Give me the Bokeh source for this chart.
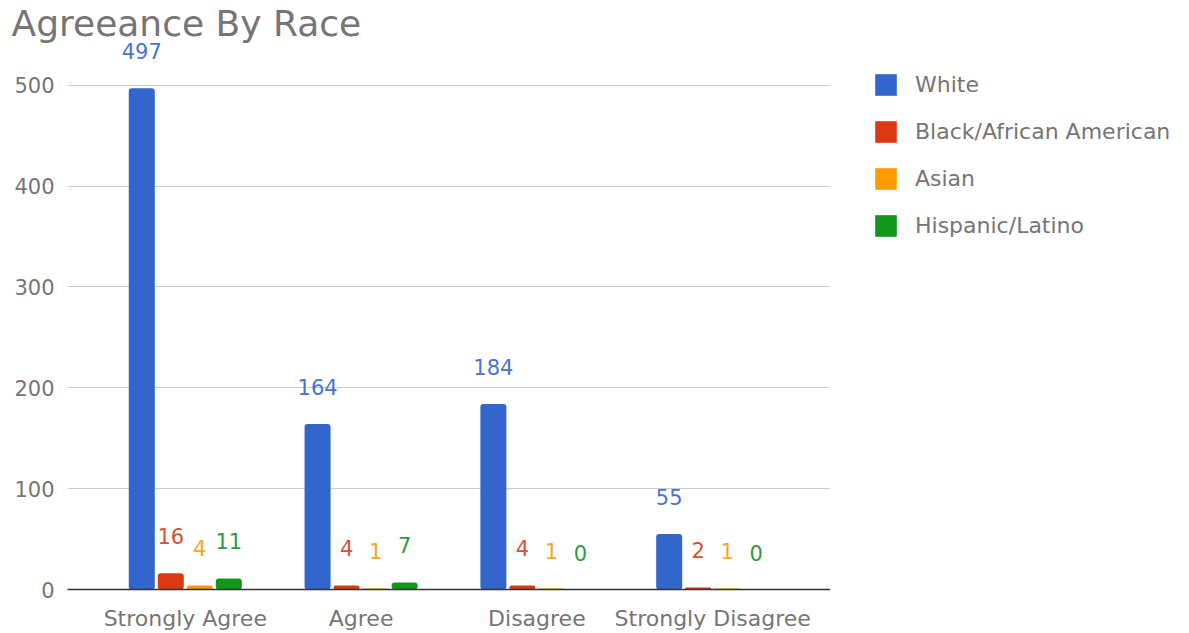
from bokeh.plotting import figure
from bokeh.layouts import row
from bokeh.models import Range1d, FixedTicker, Legend, LegendItem, ColumnDataSource
from bokeh.embed import file_html
from bokeh.resources import INLINE
from bokeh.core.properties import value

# Survey responses grouped by agreement level, one series per race
categories = ["Strongly Agree", "Agree", "Disagree", "Strongly Disagree"]
series_names = ["White", "Black/African American", "Asian", "Hispanic/Latino"]
white = [497, 164, 184, 55]
black = [16, 4, 4, 2]
asian = [4, 1, 1, 1]
hispanic = [11, 7, 0, 0]
y_ticks = [0, 100, 200, 300, 400, 500]

series_values = [white, black, asian, hispanic]
bar_colors = ["#3366cc", "#dc3912", "#ff9900", "#109618"]
label_colors = ["#4a74cc", "#d9502f", "#f7a623", "#2f9a40"]

FONT = "DejaVu Sans"
GRAY = "#757575"

p = figure(width=830, height=633, output_backend="svg", toolbar_location=None,
           x_range=Range1d(-0.67, 3.67), y_range=Range1d(0, 544.3),
           min_border_left=67, min_border_right=0, min_border_bottom=40,
           min_border_top=40)

p.title.text = "Agreeance By Race"
p.title.text_font = FONT
p.title.text_font_size = "36px"
p.title.text_font_style = "normal"
p.title.text_color = GRAY
p.title.standoff = -7
p.title.offset = -56

p.outline_line_color = None
p.background_fill_color = "white"
p.border_fill_color = "white"

bar_w = 0.148
stride = 0.165
offsets = [-1.5, -0.5, 0.5, 1.5]

for vals, col, lcol, off in zip(series_values, bar_colors, label_colors, offsets):
    xs = [i + off * stride for i in range(len(categories))]
    src = ColumnDataSource(dict(x=xs, top=vals, label=[str(v) for v in vals]))
    p.vbar(x="x", top="top", width=bar_w, bottom=0, source=src,
           fill_color=col, line_color=None, border_radius=3)
    p.text(x="x", y="top", text="label", source=src, text_align="center",
           text_baseline="middle", y_offset=-37, text_color=lcol,
           text_font=value(FONT), text_font_size="21px")

# y axis: gridlines only, labels at fixed hundreds
p.yaxis.ticker = FixedTicker(ticks=y_ticks)
p.yaxis.axis_line_color = None
p.yaxis.major_tick_line_color = None
p.yaxis.minor_tick_line_color = None
p.yaxis.major_tick_out = 0
p.yaxis.major_label_text_font = FONT
p.yaxis.major_label_text_font_size = "21px"
p.yaxis.major_label_text_color = GRAY
p.yaxis.major_label_standoff = 13

p.ygrid.ticker = FixedTicker(ticks=y_ticks[1:])
p.ygrid.grid_line_color = "#cccccc"
p.ygrid.grid_line_width = 1
p.xgrid.grid_line_color = None

# x axis: category names under each group, dark baseline at zero
p.xaxis.ticker = FixedTicker(ticks=list(range(len(categories))))
p.xaxis.major_label_overrides = {i: c for i, c in enumerate(categories)}
p.xaxis.axis_line_color = "#333333"
p.xaxis.axis_line_width = 1.5
p.xaxis.major_tick_line_color = None
p.xaxis.minor_tick_line_color = None
p.xaxis.major_label_text_font = FONT
p.xaxis.major_label_text_font_size = "22px"
p.xaxis.major_label_text_color = GRAY
p.xaxis.major_label_standoff = 10

# legend panel to the right of the chart (its frame lines up with the chart's)
lp = figure(width=359, height=633, output_backend="svg", toolbar_location=None,
            x_axis_type=None, y_axis_type=None, min_border=0,
            x_range=Range1d(0, 1), y_range=Range1d(0, 1))
lp.outline_line_color = None
lp.background_fill_color = "white"
lp.border_fill_color = "white"
lp.grid.visible = False

items = []
for name, col in zip(series_names, bar_colors):
    # zero-size swatch carrier: only its legend glyph is seen
    r = lp.vbar(x=[0], top=[0], bottom=0, width=0, fill_color=col,
                line_color=None, border_radius=3)
    items.append(LegendItem(label=name, renderers=[r]))

legend = Legend(items=items, location=(42, 350), orientation="vertical")
legend.glyph_width = 27
legend.glyph_height = 27
legend.label_height = 27
legend.spacing = 20
legend.padding = 0
legend.margin = 0
legend.label_standoff = 16
legend.label_text_font = FONT
legend.label_text_font_size = "22px"
legend.label_text_color = GRAY
legend.label_text_baseline = "middle"
legend.border_line_color = None
legend.background_fill_alpha = 0
lp.add_layout(legend)

layout = row(p, lp, spacing=0)

open("out.html", "w").write(file_html(layout, INLINE))
